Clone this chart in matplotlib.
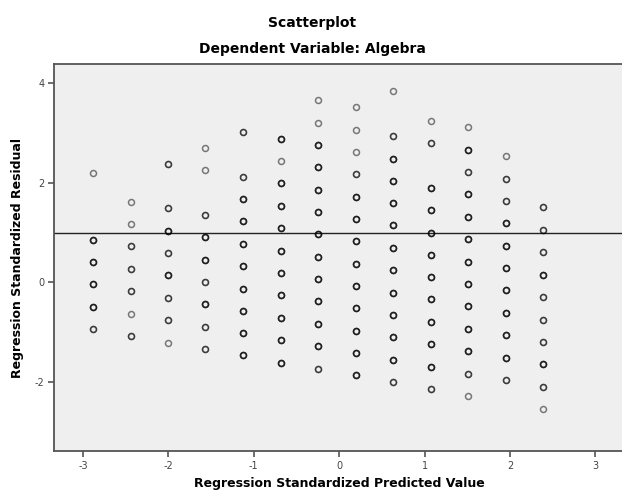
import matplotlib
matplotlib.use("Agg")
import matplotlib.pyplot as plt

# standardized predicted value of each column of points
predicted = [-2.887, -2.443, -2.007, -1.569, -1.127, -0.684, -0.246,
             0.192, 0.630, 1.072, 1.510, 1.948, 2.391]

# standardized residuals in each column
residuals = [
    [2.205, 0.851, 0.408, -0.040, -0.490, -0.933],
    [1.622, 1.173, 0.724, 0.274, -0.175, -0.631, -1.080],
    [2.387, 1.489, 1.038, 0.589, 0.140, -0.310, -0.759, -1.220],
    [2.702, 2.260, 1.361, 0.905, 0.455, 0.006, -0.443, -0.893, -1.342],
    [3.024, 2.119, 1.676, 1.227, 0.777, 0.328, -0.129, -0.571, -1.020, -1.469],
    [2.889, 2.441, 1.992, 1.541, 1.093, 0.636, 0.193, -0.262, -0.712, -1.167, -1.618],
    [3.662, 3.211, 2.763, 2.314, 1.863, 1.414, 0.972, 0.515, 0.066, -0.382, -0.833, -1.282, -1.738],
    [3.521, 3.070, 2.622, 2.173, 1.722, 1.274, 0.825, 0.374, -0.074, -0.523, -0.974, -1.423, -1.871],
    [3.843, 2.938, 2.487, 2.038, 1.589, 1.147, 0.690, 0.241, -0.209, -0.658, -1.107, -1.557, -2.012],
    [3.252, 2.809, 1.903, 1.449, 0.998, 0.549, 0.100, -0.342, -0.799, -1.248, -1.698, -2.153],
    [3.119, 2.668, 2.219, 1.771, 1.320, 0.871, 0.415, -0.034, -0.483, -0.934, -1.388, -1.839, -2.288],
    [2.535, 2.085, 1.636, 1.187, 0.736, 0.288, -0.161, -0.618, -1.066, -1.517, -1.966],
    [1.509, 1.052, 0.604, 0.147, -0.296, -0.752, -1.201, -1.650, -2.100, -2.555],
]

# how many cases sit on top of each other at each point
counts = [
    [1, 3, 3, 3, 3, 2],
    [1, 1, 2, 2, 2, 1, 2],
    [2, 2, 3, 2, 3, 2, 2, 1],
    [1, 1, 2, 3, 3, 2, 3, 2, 2],
    [2, 2, 3, 3, 3, 3, 3, 3, 3, 3],
    [3, 1, 3, 3, 3, 3, 3, 3, 3, 3, 3],
    [1, 1, 3, 3, 3, 3, 3, 3, 3, 3, 3, 3, 2],
    [1, 1, 1, 2, 3, 3, 3, 3, 3, 3, 3, 3, 3],
    [1, 2, 3, 3, 3, 3, 3, 3, 3, 3, 3, 3, 2],
    [1, 2, 3, 3, 3, 3, 3, 3, 3, 3, 3, 2],
    [1, 3, 2, 3, 3, 3, 3, 3, 3, 3, 3, 2, 1],
    [1, 2, 2, 3, 3, 3, 3, 3, 3, 3, 2],
    [2, 2, 2, 3, 2, 2, 2, 3, 2, 1],
]

fit_line = 1.0

fig = plt.figure(figsize=(6.22, 4.94), dpi=100)
ax = fig.add_axes([0.0868, 0.087, 0.917, 0.7834])
ax.set_facecolor('#efefef')

# overlapping cases are drawn on top of each other so they come out darker
for x, ys, ns in zip(predicted, residuals, counts):
    for y, n in zip(ys, ns):
        for _ in range(n):
            ax.plot(x, y, 'o', ms=4.3, mfc='none', mec='black', mew=1.1,
                    alpha=0.5, zorder=3)

ax.axhline(fit_line, color='#222222', lw=1.0, zorder=2)

ax.set_xlim(-3.34, 3.34)
ax.set_ylim(-3.39, 4.39)
ax.set_xticks([-3, -2, -1, 0, 1, 2, 3])
ax.set_yticks([-2, 0, 2, 4])
ax.set_xticklabels(['-3', '-2', '-1', '0', '1', '2', '3'])
ax.set_yticklabels(['-2', '0', '2', '4'])
ax.tick_params(direction='out', length=4, width=1.2, color='#555555',
               labelsize=7, labelcolor='#444444', pad=3)

for side in ['left', 'bottom', 'top']:
    ax.spines[side].set_color('#555555')
    ax.spines[side].set_linewidth(1.3)
ax.spines['right'].set_visible(False)

ax.set_xlabel('Regression Standardized Predicted Value', fontsize=9,
              fontweight='bold')
ax.set_ylabel('Regression Standardized Residual', fontsize=9,
              fontweight='bold')
ax.xaxis.set_label_coords(0.5, -0.067)
ax.yaxis.set_label_coords(-0.052, 0.5)

fig.text(0.502, 1 - 23 / 494, 'Scatterplot', ha='center', va='center',
         fontsize=10, fontweight='bold')
fig.text(0.502, 1 - 49 / 494, 'Dependent Variable: Algebra', ha='center',
         va='center', fontsize=10, fontweight='bold')

fig.savefig('out.png', dpi=100)
